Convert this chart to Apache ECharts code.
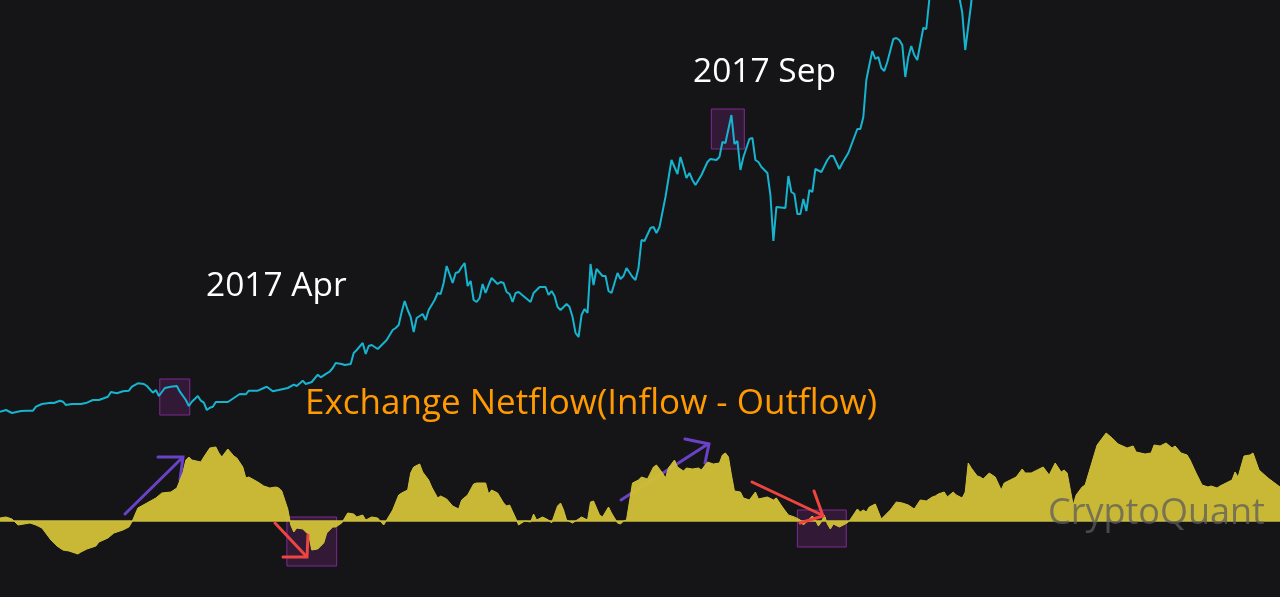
<!DOCTYPE html>
<html>
<head>
<meta charset="utf-8">
<script src="https://cdn.jsdelivr.net/npm/echarts@6/dist/echarts.min.js"></script>
<style>
html,body{margin:0;padding:0;background:#151518;}
#chart{width:1280px;height:597px;}
</style>
</head>
<body>
<div id="chart"></div>
<script>
// Price (arbitrary units) by day offset
const pricePoints = [
[0,1853],[2,1870],[4,1840],[7,1860],[9,1863],[11,1863],[12,1903],[14,1930],[17,1943],[18,1940],[20,1963],[21,1953],[22,1920],[24,1930],[27,1930],[29,1943],[31,1970],[33,1970],[36,2003],[37,2050],[39,2037],[41,2057],[43,2063],[44,2103],[46,2137],[48,2130],[49,2110],[51,2043],[52,2070],[53,2010],[55,2090],[57,2103],[59,2110],[60,2053],[62,1970],[63,1910],[64,1953],[66,2010],[67,1963],[68,1943],[69,1870],[70,1893],[71,1903],[72,1950],[74,1950],[76,1950],[78,1990],[80,2030],[82,2027],[83,2063],[86,2063],[88,2090],[89,2103],[91,2057],[93,2070],[96,2090],[98,2123],[99,2110],[101,2163],[102,2130],[104,2150],[106,2223],[107,2197],[109,2237],[110,2253],[111,2290],[112,2340],[114,2330],[115,2320],[117,2330],[118,2440],[119,2470],[121,2540],[122,2430],[123,2510],[124,2520],[126,2480],[127,2510],[129,2570],[131,2670],[132,2690],[133,2720],[134,2850],[135,2960],[136,2870],[137,2800],[138,2650],[139,2790],[141,2830],[142,2770],[143,2870],[145,2970],[146,3040],[147,3030],[148,3140],[149,3310],[151,3140],[152,3240],[153,3250],[154,3300],[155,3340],[156,3110],[157,3160],[158,2970],[159,2950],[160,2990],[161,3130],[162,3040],[163,3120],[164,3190],[166,3130],[167,3150],[168,3140],[169,3050],[170,3030],[171,2950],[172,3040],[173,3050],[175,3000],[177,2950],[178,3040],[180,3100],[182,3100],[183,3020],[184,3060],[185,3010],[186,2900],[187,2870],[189,2930],[190,2900],[191,2800],[192,2640],[193,2600],[194,2820],[195,2880],[196,2840],[197,3330],[198,3120],[199,3280],[201,3210],[202,3210],[203,3060],[204,3040],[206,3240],[207,3180],[208,3210],[209,3290],[211,3200],[212,3170],[213,3290],[214,3570],[215,3560],[217,3690],[218,3700],[219,3640],[220,3700],[222,4000],[224,4370],[226,4230],[227,4400],[228,4300],[229,4190],[230,4240],[231,4170],[232,4120],[233,4170],[234,4220],[236,4350],[237,4380],[239,4370],[240,4400],[241,4550],[242,4540],[244,4820],[245,4530],[246,4560],[247,4270],[248,4400],[250,4580],[251,4590],[252,4370],[253,4350],[254,4300],[256,4240],[257,4020],[258,3560],[259,3900],[262,3890],[263,4210],[264,4050],[265,4030],[266,3830],[267,3830],[268,3980],[269,3860],[270,4070],[271,4050],[272,4280],[274,4250],[276,4370],[277,4410],[278,4410],[280,4280],[281,4340],[283,4440],[286,4680],[287,4680],[288,4800],[289,5170],[290,5320],[291,5460],[292,5380],[293,5400],[294,5290],[295,5260],[296,5350],[298,5580],[299,5590],[300,5570],[301,5520],[302,5200],[303,5400],[304,5510],[305,5420],[306,5370],[308,5690],[309,5680],[310,5970],[312,6500],[316,7000],[319,6300],[320,6000],[321,5845],[322,5470],[324,5940],[326,6800]
];

// Exchange netflow (arbitrary units) by day offset
const netflowPoints = [
[0,3],[2,4],[4,2],[6,-4],[8,-3],[10,-2],[12,-4],[14,-7],[17,-19],[19,-25],[21,-29],[23,-30],[25,-32],[26,-33],[27,-31],[29,-28],[32,-25],[33,-21],[36,-17],[38,-12],[41,-9],[43,-6],[44,-1],[46,13],[49,18],[52,23],[54,28],[57,29],[59,33],[61,48],[62,61],[63,64],[64,61],[67,59],[68,64],[70,73],[72,74],[73,68],[74,64],[76,72],[78,65],[79,63],[81,54],[82,43],[83,44],[86,39],[88,35],[90,33],[92,34],[93,33],[94,30],[96,12],[97,-4],[98,-11],[99,-7],[101,-8],[103,-14],[104,-29],[106,-28],[108,-22],[109,-12],[111,-6],[112,-6],[114,-2],[116,8],[118,7],[119,4],[121,6],[122,1],[124,4],[126,3],[128,-4],[129,1],[131,11],[133,26],[134,28],[136,31],[137,48],[138,54],[140,57],[141,49],[143,41],[144,34],[146,23],[147,25],[149,22],[151,15],[153,12],[154,21],[156,26],[158,37],[159,38],[162,38],[163,27],[164,31],[166,28],[168,18],[169,15],[170,16],[172,3],[173,-4],[175,0],[177,-1],[178,7],[179,1],[181,4],[183,1],[184,-2],[186,15],[187,18],[188,11],[189,1],[191,-2],[193,2],[194,4],[196,1],[197,19],[198,20],[200,6],[201,4],[203,14],[204,8],[206,-2],[207,-3],[208,0],[209,1],[211,38],[213,41],[214,44],[216,42],[218,54],[219,56],[221,48],[222,43],[223,53],[225,61],[226,54],[228,50],[229,53],[231,52],[233,53],[234,51],[236,59],[238,57],[240,58],[241,66],[242,68],[243,64],[244,46],[245,30],[247,29],[248,23],[250,21],[251,25],[252,29],[253,22],[256,24],[258,21],[259,23],[261,14],[262,10],[263,6],[265,4],[267,1],[268,-4],[269,-1],[271,5],[272,1],[273,-5],[274,-1],[275,6],[276,-3],[277,-8],[278,-3],[280,-6],[282,-3],[283,-1],[284,3],[286,12],[287,9],[288,11],[289,9],[290,14],[292,17],[294,2],[297,11],[299,19],[301,18],[303,16],[305,12],[307,21],[309,20],[311,24],[312,25],[313,27],[315,29],[316,24],[318,29],[319,26],[321,23],[322,29],[323,58],[324,53],[326,45],[327,44],[328,42],[330,48],[332,44],[334,31],[335,38],[337,41],[339,44],[341,52],[342,48],[344,48],[346,51],[348,54],[350,46],[352,58],[354,49],[355,51],[356,48],[358,16],[359,26],[361,34],[362,36],[364,56],[366,76],[369,88],[371,83],[373,77],[376,73],[378,75],[379,69],[382,67],[384,68],[385,76],[387,75],[389,78],[391,73],[392,75],[394,68],[396,66],[397,61],[399,48],[401,36],[403,34],[404,35],[406,33],[407,35],[409,38],[411,41],[412,49],[413,44],[415,65],[417,66],[418,68],[420,51],[423,43],[427,34]
];

// Highlight boxes in data units: [dayFrom, valueTop, dayTo, valueBottom]
const priceBoxes = [[53.3,2180,63.3,1820],[237.3,4880,248.3,4480]];
const netflowBoxes = [[95.7,4,112.3,-45],[266,11,282.3,-26]];

const labelTexts = ['2017 Apr','2017 Sep','Exchange Netflow(Inflow - Outflow)','CryptoQuant'];

const chart = echarts.init(document.getElementById('chart'), null, {renderer:'canvas'});
const FONT = '"Open Sans", "DejaVu Sans", sans-serif';
const boxStyle = {color:'rgba(120,40,130,0.3)', borderColor:'#7d2b8f', borderWidth:1};
function toArea(b){ return [{coord:[b[0],b[1]]},{coord:[b[2],b[3]]}]; }

function arrow(line, head, color, z){
  return [
    {type:'polyline', z:z, silent:true, shape:{points:line}, style:{stroke:color, lineWidth:3, fill:null, lineCap:'round'}},
    {type:'polyline', z:z, silent:true, shape:{points:head}, style:{stroke:color, lineWidth:3, fill:null, lineCap:'round', lineJoin:'miter'}}
  ];
}
const PURPLE = '#6a42c8', RED = '#ef4540';

const option = {
  backgroundColor:'#151518',
  animation:false,
  grid:{left:0,right:0,top:0,bottom:0,containLabel:false},
  xAxis:{type:'value', min:0, max:427, show:false},
  yAxis:[
    {type:'value', min:0, max:5970, show:false},
    {type:'value', min:-76, max:521, show:false}
  ],
  series:[
    {
      name:'Netflow', type:'line', yAxisIndex:1, data:netflowPoints,
      showSymbol:false, z:2,
      lineStyle:{color:'#d0c036', width:1},
      areaStyle:{color:'#d0c036', opacity:0.96},
      markLine:{silent:true, symbol:['none','none'], label:{show:false},
        lineStyle:{color:'#cbbd3c', width:1.5, type:'solid', opacity:1}, data:[{yAxis:0}]},
      markArea:{silent:true, itemStyle:boxStyle, data:netflowBoxes.map(toArea)}
    },
    {
      name:'Price', type:'line', yAxisIndex:0, data:pricePoints,
      showSymbol:false, z:3, clip:true,
      lineStyle:{color:'#17b4cf', width:2},
      markArea:{silent:true, itemStyle:boxStyle, data:priceBoxes.map(toArea)}
    }
  ],
  graphic:[].concat(
    arrow([[125,514],[182,458]], [[158,457],[183,457],[180,480]], PURPLE, 1),
    arrow([[621,500],[708,444]], [[685,439],[709,444],[705,463]], PURPLE, 1),
    arrow([[275,523],[306,556]], [[283,557],[307,557],[308,535]], RED, 10),
    arrow([[752,482],[822,515]], [[800,523],[823,516],[814,491]], RED, 10),
    [
      {type:'text', z:20, silent:true, style:{text:labelTexts[0], x:206, y:286, fill:'#ffffff', font:'33.5px '+FONT, verticalAlign:'middle', textVerticalAlign:'middle'}},
      {type:'text', z:20, silent:true, style:{text:labelTexts[1], x:693, y:72, fill:'#ffffff', font:'33.5px '+FONT, verticalAlign:'middle', textVerticalAlign:'middle'}},
      {type:'text', z:20, silent:true, style:{text:labelTexts[2], x:305, y:404, fill:'#ff9a00', font:'35px '+FONT, verticalAlign:'middle', textVerticalAlign:'middle'}},
      {type:'text', z:20, silent:true, style:{text:labelTexts[3], x:1048, y:514, fill:'rgba(92,92,92,0.75)', font:'36px '+FONT, verticalAlign:'middle', textVerticalAlign:'middle'}}
    ]
  )
};
chart.setOption(option);
</script>
</body>
</html>
